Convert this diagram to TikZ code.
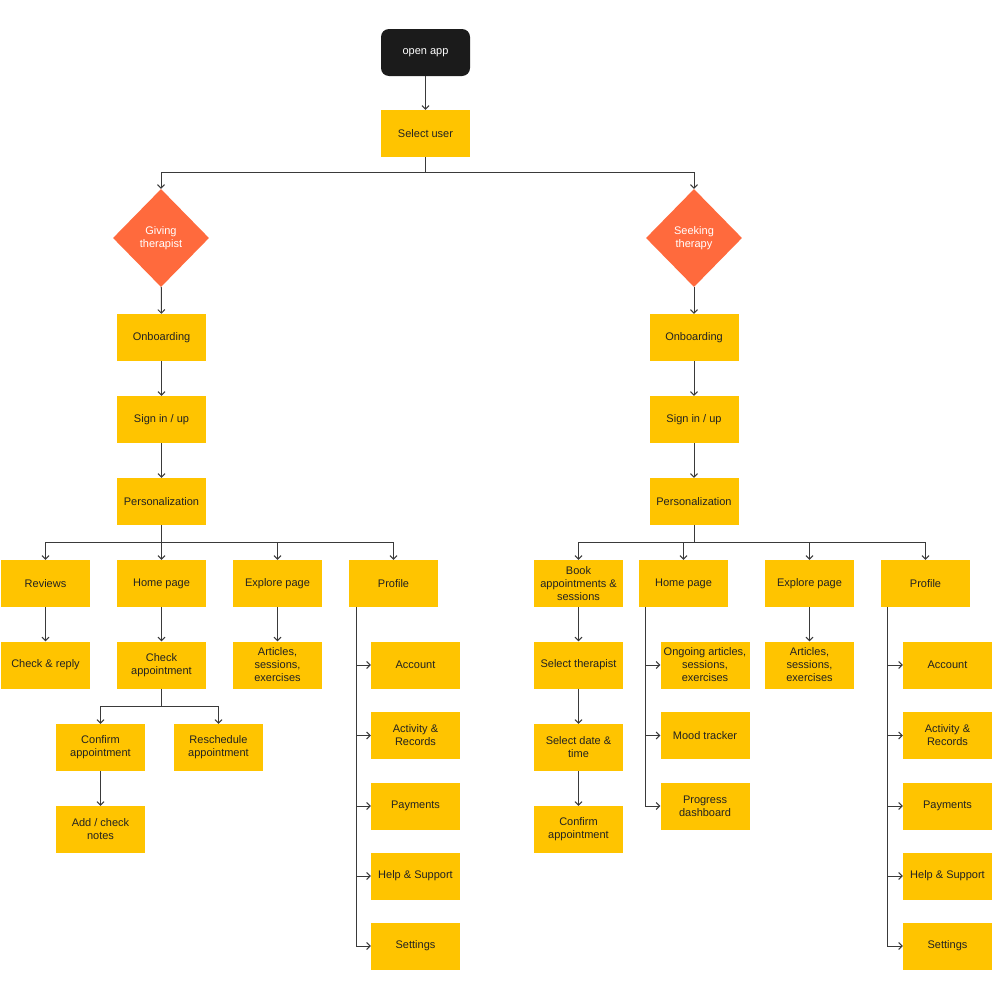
\documentclass[tikz,border=0pt]{standalone}
\usepackage{fontspec}
\setmainfont{Liberation Sans}
\usetikzlibrary{arrows.meta,shapes.geometric,calc}
\definecolor{ybox}{HTML}{FFC400}
\definecolor{odia}{HTML}{FF6A3D}
\definecolor{dbox}{HTML}{1B1B1B}
\definecolor{lin}{HTML}{3A3A3A}
\definecolor{txt}{HTML}{222222}
\begin{document}
\begin{tikzpicture}[x=1pt,y=-1pt,
  ybx/.style={rectangle,fill=ybox,minimum width=89pt,minimum height=47pt,inner sep=1pt,align=center,text=txt,font=\fontsize{11}{13}\selectfont},
  dia/.style={diamond,fill=odia,minimum width=96pt,minimum height=98pt,inner sep=0pt,align=center,text=white,font=\fontsize{11}{13}\selectfont},
  blk/.style={rectangle,rounded corners=8pt,fill=dbox,minimum width=89pt,minimum height=47pt,text=white,font=\fontsize{11}{13}\selectfont},
  arr/.style={draw=lin,line width=1pt,-{Straight Barb[length=3.5pt,width=7pt]}},
  ln/.style={draw=lin,line width=1pt}]
\useasboundingbox (0,0) rectangle (1000,985);
\fill[white] (0,0) rectangle (1000,985);

% top
\node[blk] (open) at (425.5,52.5) {open app};
\node[ybx] (sel) at (425.5,133.5) {Select user};
\node[dia] (give) at (161,238) {Giving\\therapist};
\node[dia] (seek) at (694,238) {Seeking\\therapy};

% left column
\node[ybx] (onbL) at (161.5,337.5) {Onboarding};
\node[ybx] (sigL) at (161.5,419.5) {Sign in / up};
\node[ybx] (perL) at (161.5,501.5) {Personalization};
\node[ybx] (rev) at (45.5,583.5) {Reviews};
\node[ybx] (homL) at (161.5,583.5) {Home page};
\node[ybx] (expL) at (277.5,583.5) {Explore page};
\node[ybx] (proL) at (393.5,583.5) {Profile};
\node[ybx] (chk) at (45.5,665) {Check \& reply};
\node[ybx] (cap) at (161.5,665) {Check\\appointment};
\node[ybx] (artL) at (277.5,665) {Articles,\\sessions,\\exercises};
\node[ybx] (cnfL) at (100.5,747.5) {Confirm\\appointment};
\node[ybx] (res) at (218.5,747.5) {Reschedule\\appointment};
\node[ybx] (note) at (100.5,829.5) {Add / check\\notes};
\node[ybx] (accL) at (415.5,665) {Account};
\node[ybx] (actL) at (415.5,735.5) {Activity \&\\Records};
\node[ybx] (payL) at (415.5,806) {Payments};
\node[ybx] (hlpL) at (415.5,876) {Help \& Support};
\node[ybx] (setL) at (415.5,946) {Settings};

% right column
\node[ybx] (onbR) at (694,337.5) {Onboarding};
\node[ybx] (sigR) at (694,419.5) {Sign in / up};
\node[ybx] (perR) at (694,501.5) {Personalization};
\node[ybx] (book) at (578.5,583.5) {Book\\appointments \&\\sessions};
\node[ybx] (homR) at (683.5,583.5) {Home page};
\node[ybx] (expR) at (809.5,583.5) {Explore page};
\node[ybx] (proR) at (925.5,583.5) {Profile};
\node[ybx] (sth) at (578.5,665) {Select therapist};
\node[ybx] (sdt) at (578.5,747.5) {Select date \&\\time};
\node[ybx] (cnfR) at (578.5,829.5) {Confirm\\appointment};
\node[ybx] (ong) at (705,665) {Ongoing articles,\\sessions,\\exercises};
\node[ybx] (mood) at (705,735.5) {Mood tracker};
\node[ybx] (prog) at (705,806) {Progress\\dashboard};
\node[ybx] (artR) at (809.5,665) {Articles,\\sessions,\\exercises};
\node[ybx] (accR) at (947.5,665) {Account};
\node[ybx] (actR) at (947.5,735.5) {Activity \&\\Records};
\node[ybx] (payR) at (947.5,806) {Payments};
\node[ybx] (hlpR) at (947.5,876) {Help \& Support};
\node[ybx] (setR) at (947.5,946) {Settings};

% branch coordinates
\coordinate (bTop) at (425.5,172);
\coordinate (bL) at (161.5,542);
\coordinate (bR) at (694,542);
\coordinate (bC) at (161.5,706);
\coordinate (pL) at ($(proL.south west)+(8,0)$);
\coordinate (hR) at ($(homR.south west)+(7,0)$);
\coordinate (pR) at ($(proR.south west)+(7,0)$);

% connectors
\draw[arr] (open) -- (sel);
\draw[arr] (sel.south) -- (bTop) -| (give.north);
\draw[arr] (sel.south) -- (bTop) -| (seek.north);

\draw[arr] (give) -- (onbL);
\draw[arr] (onbL) -- (sigL);
\draw[arr] (sigL) -- (perL);
\foreach \n in {rev,homL,expL,proL}
  \draw[arr] (perL.south) -- (bL) -| (\n.north);
\draw[arr] (rev) -- (chk);
\draw[arr] (homL) -- (cap);
\draw[arr] (expL) -- (artL);
\draw[arr] (cap.south) -- (bC) -| (cnfL.north);
\draw[arr] (cap.south) -- (bC) -| (res.north);
\draw[arr] (cnfL) -- (note);
\foreach \n in {accL,actL,payL,hlpL,setL}
  \draw[arr] (pL) |- (\n.west);

\draw[arr] (seek) -- (onbR);
\draw[arr] (onbR) -- (sigR);
\draw[arr] (sigR) -- (perR);
\foreach \n in {book,homR,expR,proR}
  \draw[arr] (perR.south) -- (bR) -| (\n.north);
\draw[arr] (book) -- (sth);
\draw[arr] (sth) -- (sdt);
\draw[arr] (sdt) -- (cnfR);
\draw[arr] (expR) -- (artR);
\foreach \n in {ong,mood,prog}
  \draw[arr] (hR) |- (\n.west);
\foreach \n in {accR,actR,payR,hlpR,setR}
  \draw[arr] (pR) |- (\n.west);
\end{tikzpicture}
\end{document}
